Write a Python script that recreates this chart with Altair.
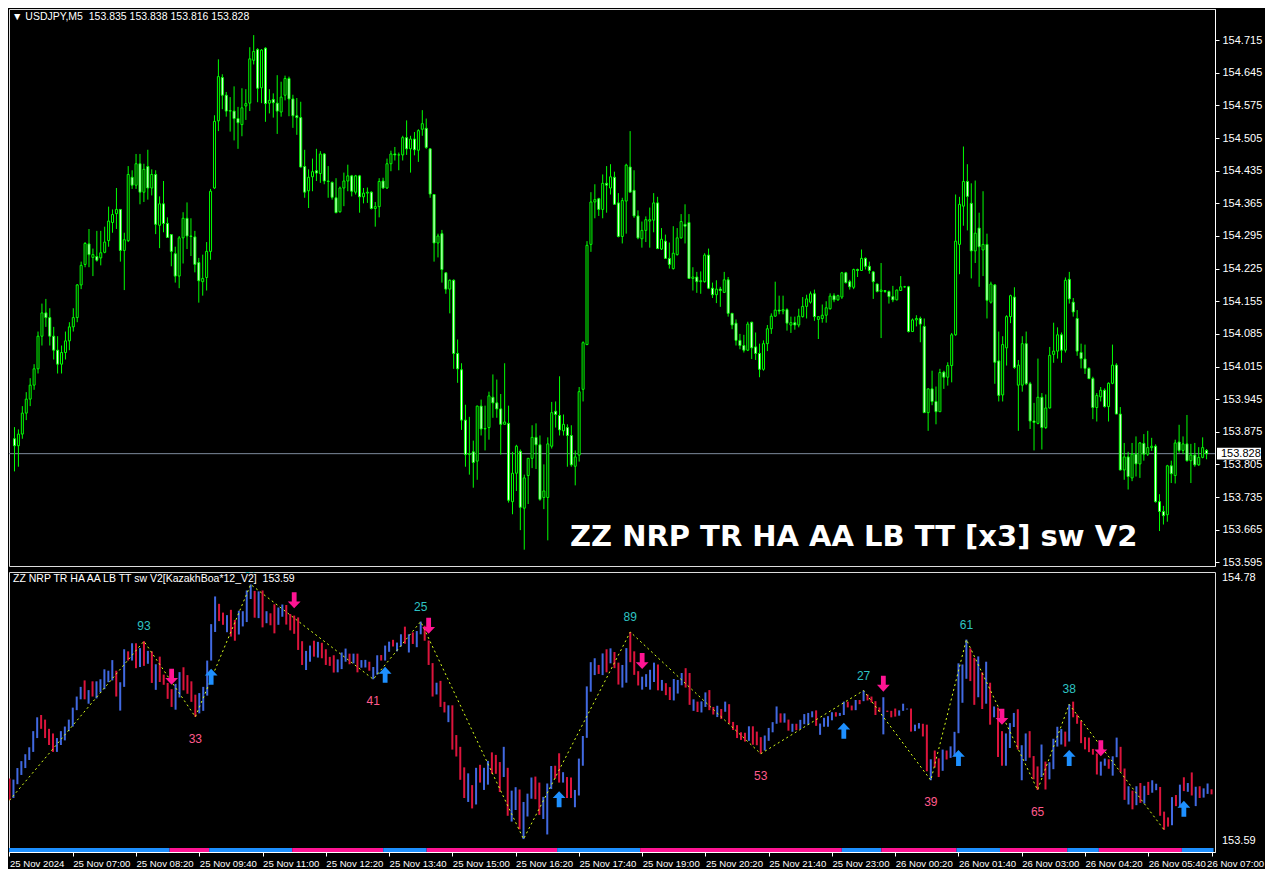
import altair as alt
import pandas as pd

# ---------------- data ----------------
OPEN = [
    153.860, 153.845, 153.870, 153.915, 153.945, 153.975, 154.010, 154.080, 154.130, 154.120,
    154.080, 154.050, 154.020, 154.045, 154.070, 154.100, 154.120, 154.190, 154.234, 154.278,
    154.249, 154.251, 154.248, 154.260, 154.285, 154.324, 154.343, 154.352, 154.264, 154.285,
    154.421, 154.404, 154.450, 154.389, 154.444, 154.398, 154.427, 154.318, 154.364, 154.322,
    154.298, 154.257, 154.209, 154.291, 154.333, 154.295, 154.293, 154.238, 154.197, 154.206,
    154.262, 154.398, 154.542, 154.635, 154.597, 154.563, 154.563, 154.547, 154.534, 154.574,
    154.580, 154.672, 154.695, 154.613, 154.698, 154.580, 154.588, 154.580, 154.561, 154.597,
    154.633, 154.589, 154.553, 154.549, 154.444, 154.392, 154.422, 154.435, 154.429, 154.471,
    154.413, 154.410, 154.377, 154.347, 154.398, 154.413, 154.424, 154.389, 154.424, 154.379,
    154.387, 154.389, 154.354, 154.358, 154.413, 154.398, 154.450, 154.471, 154.469, 154.469,
    154.506, 154.482, 154.503, 154.479, 154.524, 154.526, 154.482, 154.384, 154.280, 154.300,
    154.216, 154.181, 154.200, 154.043, 154.008, 153.900, 153.826, 153.832, 153.812, 153.930,
    153.881, 153.884, 153.949, 153.937, 153.924, 153.891, 153.893, 153.725, 153.786, 153.833,
    153.711, 153.781, 153.818, 153.863, 153.847, 153.734, 153.734, 153.844, 153.919, 153.910,
    153.877, 153.884, 153.867, 153.801, 153.825, 153.966, 154.062, 154.277, 154.368, 154.375,
    154.352, 154.408, 154.398, 154.421, 154.366, 154.294, 154.370, 154.443, 154.393, 154.338,
    154.289, 154.307, 154.327, 154.329, 154.366, 154.267, 154.284, 154.247, 154.225, 154.255,
    154.291, 154.320, 154.324, 154.204, 154.207, 154.197, 154.197, 154.254, 154.183, 154.169,
    154.181, 154.174, 154.201, 154.129, 154.108, 154.071, 154.060, 154.050, 154.110, 154.057,
    154.043, 154.009, 154.064, 154.096, 154.123, 154.136, 154.134, 154.137, 154.104, 154.109,
    154.104, 154.122, 154.144, 154.153, 154.171, 154.116, 154.118, 154.125, 154.139, 154.167,
    154.158, 154.164, 154.216, 154.197, 154.185, 154.223, 154.221, 154.247, 154.230, 154.218,
    154.192, 154.176, 154.178, 154.176, 154.165, 154.158, 154.178, 154.186, 154.186, 154.090,
    154.115, 154.118, 154.101, 153.916, 153.967, 153.940, 153.918, 154.003, 153.992, 154.017,
    154.083, 154.277, 154.359, 154.412, 154.365, 154.263, 154.312, 154.265, 154.277, 154.153,
    154.190, 154.027, 153.954, 154.055, 154.122, 154.164, 153.975, 153.975, 154.064, 153.978,
    153.898, 153.893, 153.949, 153.884, 153.926, 154.041, 154.048, 154.083, 154.050, 154.202,
    154.153, 154.118, 154.045, 154.031, 154.011, 153.989, 153.927, 153.950, 153.964, 153.929,
    153.979, 154.018, 153.913, 153.793, 153.821, 153.776, 153.827, 153.806, 153.850, 153.827,
    153.841, 153.844, 153.725, 153.704, 153.697, 153.802, 153.781, 153.853, 153.835, 153.849,
    153.813, 153.825, 153.804, 153.820, 153.835,
]
HIGH = [
    153.885, 153.880, 153.930, 153.960, 153.990, 154.020, 154.090, 154.150, 154.160, 154.140,
    154.100, 154.080, 154.060, 154.090, 154.110, 154.140, 154.192, 154.240, 154.282, 154.310,
    154.268, 154.306, 154.306, 154.315, 154.358, 154.352, 154.398, 154.352, 154.302, 154.445,
    154.436, 154.471, 154.471, 154.450, 154.480, 154.438, 154.436, 154.380, 154.413, 154.335,
    154.299, 154.272, 154.295, 154.346, 154.367, 154.333, 154.306, 154.248, 154.255, 154.282,
    154.396, 154.554, 154.674, 154.642, 154.604, 154.593, 154.616, 154.572, 154.612, 154.610,
    154.700, 154.726, 154.698, 154.696, 154.700, 154.610, 154.601, 154.640, 154.626, 154.639,
    154.637, 154.598, 154.591, 154.583, 154.480, 154.438, 154.461, 154.482, 154.477, 154.473,
    154.445, 154.412, 154.419, 154.401, 154.431, 154.448, 154.426, 154.426, 154.426, 154.398,
    154.399, 154.391, 154.368, 154.419, 154.420, 154.461, 154.478, 154.486, 154.474, 154.510,
    154.543, 154.510, 154.518, 154.524, 154.565, 154.547, 154.483, 154.385, 154.300, 154.308,
    154.217, 154.202, 154.202, 154.073, 154.022, 153.933, 153.907, 153.856, 153.931, 153.944,
    153.931, 153.961, 153.998, 153.987, 153.956, 154.022, 153.931, 153.832, 153.847, 153.837,
    153.783, 153.819, 153.889, 153.893, 153.867, 153.805, 153.863, 153.939, 153.940, 153.994,
    153.912, 153.891, 153.889, 153.835, 153.971, 154.069, 154.284, 154.389, 154.406, 154.377,
    154.427, 154.445, 154.449, 154.433, 154.387, 154.377, 154.450, 154.520, 154.436, 154.350,
    154.326, 154.337, 154.356, 154.387, 154.379, 154.312, 154.298, 154.281, 154.316, 154.312,
    154.342, 154.363, 154.342, 154.228, 154.218, 154.219, 154.258, 154.268, 154.195, 154.200,
    154.186, 154.218, 154.207, 154.130, 154.116, 154.085, 154.083, 154.111, 154.111, 154.088,
    154.064, 154.071, 154.104, 154.129, 154.197, 154.167, 154.167, 154.140, 154.122, 154.122,
    154.139, 154.164, 154.169, 154.176, 154.180, 154.123, 154.148, 154.155, 154.172, 154.172,
    154.169, 154.218, 154.218, 154.201, 154.225, 154.225, 154.266, 154.249, 154.240, 154.220,
    154.193, 154.237, 154.179, 154.178, 154.188, 154.180, 154.209, 154.188, 154.188, 154.118,
    154.125, 154.122, 154.118, 153.968, 154.006, 153.972, 154.010, 154.006, 154.024, 154.087,
    154.384, 154.379, 154.487, 154.449, 154.408, 154.414, 154.345, 154.391, 154.300, 154.197,
    154.192, 154.090, 154.080, 154.125, 154.169, 154.185, 154.029, 154.080, 154.090, 153.982,
    153.937, 154.032, 153.958, 153.955, 154.057, 154.109, 154.099, 154.088, 154.206, 154.218,
    154.162, 154.136, 154.064, 154.062, 154.013, 153.993, 153.958, 153.971, 153.968, 153.981,
    154.062, 154.022, 153.928, 153.851, 153.832, 153.851, 153.865, 153.853, 153.870, 153.877,
    153.862, 153.848, 153.741, 153.716, 153.804, 153.813, 153.858, 153.890, 153.865, 153.911,
    153.849, 153.851, 153.842, 153.863, 153.838,
]
LOW = [
    153.790, 153.800, 153.860, 153.900, 153.930, 153.965, 154.000, 154.060, 154.100, 154.060,
    154.030, 154.000, 154.000, 154.030, 154.050, 154.090, 154.110, 154.181, 154.228, 154.228,
    154.209, 154.240, 154.232, 154.258, 154.272, 154.302, 154.310, 154.240, 154.179, 154.282,
    154.396, 154.396, 154.363, 154.368, 154.373, 154.382, 154.299, 154.269, 154.303, 154.291,
    154.230, 154.195, 154.183, 154.236, 154.267, 154.252, 154.217, 154.152, 154.167, 154.178,
    154.244, 154.396, 154.520, 154.567, 154.551, 154.519, 154.500, 154.482, 154.509, 154.544,
    154.563, 154.663, 154.582, 154.580, 154.540, 154.558, 154.549, 154.514, 154.551, 154.586,
    154.552, 154.527, 154.512, 154.442, 154.377, 154.355, 154.391, 154.413, 154.409, 154.406,
    154.377, 154.373, 154.344, 154.345, 154.359, 154.391, 154.380, 154.384, 154.345, 154.365,
    154.366, 154.352, 154.315, 154.335, 154.396, 154.396, 154.434, 154.457, 154.436, 154.457,
    154.469, 154.431, 154.468, 154.454, 154.510, 154.482, 154.377, 154.240, 154.249, 154.195,
    154.171, 154.129, 154.010, 153.980, 153.879, 153.800, 153.783, 153.755, 153.772, 153.867,
    153.835, 153.858, 153.905, 153.905, 153.826, 153.891, 153.723, 153.698, 153.748, 153.664,
    153.622, 153.720, 153.797, 153.795, 153.727, 153.709, 153.642, 153.839, 153.884, 153.867,
    153.867, 153.800, 153.800, 153.760, 153.811, 153.940, 154.061, 154.261, 154.333, 154.338,
    154.333, 154.345, 154.384, 154.363, 154.292, 154.279, 154.300, 154.389, 154.334, 154.288,
    154.270, 154.282, 154.270, 154.303, 154.267, 154.265, 154.246, 154.225, 154.223, 154.253,
    154.289, 154.279, 154.204, 154.178, 154.173, 154.171, 154.195, 154.181, 154.162, 154.151,
    154.143, 154.174, 154.122, 154.095, 154.060, 154.052, 154.045, 154.048, 154.031, 154.029,
    153.992, 154.006, 154.048, 154.085, 154.122, 154.127, 154.127, 154.092, 154.087, 154.094,
    154.099, 154.120, 154.118, 154.150, 154.113, 154.074, 154.109, 154.109, 154.137, 154.153,
    154.156, 154.160, 154.193, 154.180, 154.181, 154.207, 154.220, 154.223, 154.214, 154.160,
    154.174, 154.076, 154.173, 154.150, 154.153, 154.157, 154.178, 154.184, 154.088, 154.090,
    154.101, 154.067, 153.916, 153.877, 153.932, 153.891, 153.918, 153.967, 153.974, 153.981,
    154.081, 154.213, 154.317, 154.307, 154.204, 154.237, 154.186, 154.209, 154.118, 154.150,
    153.978, 153.940, 153.940, 154.017, 154.108, 154.010, 153.877, 153.961, 153.975, 153.881,
    153.835, 153.891, 153.837, 153.881, 153.925, 154.023, 154.032, 154.023, 154.045, 154.150,
    154.122, 154.038, 154.011, 153.999, 153.988, 153.902, 153.897, 153.940, 153.927, 153.897,
    153.977, 153.913, 153.792, 153.772, 153.751, 153.769, 153.779, 153.776, 153.813, 153.823,
    153.834, 153.723, 153.662, 153.676, 153.682, 153.765, 153.764, 153.830, 153.827, 153.811,
    153.765, 153.800, 153.802, 153.818, 153.816,
]
CLOSE = [
    153.845, 153.870, 153.915, 153.945, 153.975, 154.010, 154.080, 154.130, 154.120, 154.080,
    154.050, 154.020, 154.045, 154.070, 154.100, 154.120, 154.190, 154.232, 154.279, 154.255,
    154.255, 154.243, 154.259, 154.282, 154.327, 154.341, 154.352, 154.264, 154.287, 154.427,
    154.404, 154.450, 154.389, 154.438, 154.398, 154.427, 154.320, 154.364, 154.322, 154.292,
    154.262, 154.209, 154.291, 154.333, 154.295, 154.294, 154.234, 154.199, 154.204, 154.262,
    154.391, 154.541, 154.637, 154.597, 154.563, 154.564, 154.547, 154.538, 154.570, 154.579,
    154.675, 154.691, 154.612, 154.694, 154.579, 154.586, 154.581, 154.563, 154.593, 154.633,
    154.589, 154.553, 154.549, 154.443, 154.389, 154.421, 154.433, 154.430, 154.471, 154.413,
    154.412, 154.378, 154.345, 154.398, 154.413, 154.424, 154.391, 154.424, 154.379, 154.387,
    154.389, 154.354, 154.358, 154.412, 154.398, 154.450, 154.471, 154.469, 154.469, 154.506,
    154.482, 154.503, 154.480, 154.521, 154.536, 154.485, 154.385, 154.280, 154.295, 154.223,
    154.181, 154.200, 154.043, 154.010, 153.900, 153.826, 153.828, 153.809, 153.930, 153.881,
    153.882, 153.952, 153.937, 153.924, 153.891, 153.896, 153.728, 153.786, 153.844, 153.713,
    153.776, 153.818, 153.863, 153.847, 153.730, 153.748, 153.849, 153.916, 153.912, 153.879,
    153.891, 153.867, 153.804, 153.821, 153.961, 154.066, 154.275, 154.368, 154.373, 154.352,
    154.408, 154.404, 154.422, 154.363, 154.294, 154.371, 154.447, 154.389, 154.338, 154.291,
    154.307, 154.330, 154.330, 154.366, 154.268, 154.288, 154.247, 154.234, 154.258, 154.291,
    154.326, 154.316, 154.204, 154.207, 154.197, 154.199, 154.254, 154.183, 154.169, 154.181,
    154.178, 154.201, 154.129, 154.104, 154.071, 154.060, 154.050, 154.106, 154.055, 154.043,
    154.009, 154.064, 154.096, 154.123, 154.136, 154.134, 154.137, 154.108, 154.109, 154.104,
    154.123, 154.144, 154.160, 154.171, 154.122, 154.122, 154.125, 154.141, 154.166, 154.158,
    154.167, 154.216, 154.195, 154.186, 154.223, 154.221, 154.247, 154.230, 154.221, 154.197,
    154.176, 154.179, 154.176, 154.165, 154.158, 154.179, 154.186, 154.186, 154.090, 154.115,
    154.118, 154.106, 153.916, 153.967, 153.940, 153.918, 154.002, 153.992, 154.017, 154.083,
    154.284, 154.363, 154.412, 154.380, 154.263, 154.301, 154.272, 154.277, 154.157, 154.192,
    154.024, 153.953, 154.062, 154.122, 154.167, 154.013, 154.018, 154.064, 153.978, 153.898,
    153.895, 153.949, 153.884, 153.926, 154.039, 154.048, 154.083, 154.050, 154.200, 154.160,
    154.132, 154.048, 154.032, 154.011, 153.989, 153.927, 153.953, 153.964, 153.929, 153.979,
    154.018, 153.913, 153.793, 153.821, 153.779, 153.827, 153.806, 153.851, 153.827, 153.841,
    153.844, 153.725, 153.704, 153.695, 153.802, 153.785, 153.851, 153.835, 153.849, 153.813,
    153.825, 153.804, 153.820, 153.841, 153.828,
]

TIME_LABELS = [
    "25 Nov 2024", "25 Nov 07:00", "25 Nov 08:20", "25 Nov 09:40", "25 Nov 11:00",
    "25 Nov 12:20", "25 Nov 13:40", "25 Nov 15:00", "25 Nov 16:20", "25 Nov 17:40",
    "25 Nov 19:00", "25 Nov 20:20", "25 Nov 21:40", "25 Nov 23:00", "26 Nov 00:20",
    "26 Nov 01:40", "26 Nov 03:00", "26 Nov 04:20", "26 Nov 05:40", "26 Nov 07:00",
]
PRICE_TICKS = [154.715, 154.645, 154.575, 154.505, 154.435, 154.365, 154.295, 154.225,
               154.155, 154.085, 154.015, 153.945, 153.875, 153.805, 153.735, 153.665, 153.595]
LAST_PRICE = [153.828]
SUB_LABELS = ["154.78", "153.59"]

ZZ_BAR = [0, 34, 47, 61, 92, 104, 130, 157, 190, 216, 233, 242, 260, 268, 292]
ZZ_PRICE = [153.790, 154.480, 154.152, 154.726, 154.315, 154.565, 153.622, 154.520,
            153.992, 154.266, 153.877, 154.487, 153.835, 154.206, 153.662]
ZZ_TEXT = ["", "93", "33", "37", "41", "25", "", "89", "53", "27", "39", "61", "65", "38", ""]
ZZ_SIDE = ["low", "high", "low", "high", "low", "high", "low", "high",
           "low", "high", "low", "high", "low", "high", "low"]

ARROW_BAR = [41, 51, 72, 95, 106, 139, 160, 211, 221, 240, 251, 268, 276, 297]
ARROW_PRICE = [154.326, 154.326, 154.657, 154.334, 154.547, 153.795, 154.394,
               154.092, 154.296, 153.974, 154.152, 153.974, 154.016, 153.753]
ARROW_DIR = ["down", "up", "down", "up", "down", "up", "down",
             "up", "down", "up", "down", "up", "down", "up"]

STRIP_EDGES = [0, 41, 51, 72, 95, 106, 139, 160, 211, 221, 240, 251, 268, 276, 297, 305]
STRIP_STATE = ["up", "down", "up", "down", "up", "down", "up", "down",
               "up", "down", "up", "down", "up", "down", "up"]

HEADER_TOP = "\u25BC USDJPY,M5\u00a0 153.835 153.838 153.816 153.828"
HEADER_SUB = "ZZ NRP TR HA AA LB TT sw V2[KazakhBoa*12_V2]\u00a0 153.59"
BIG_TITLE = "ZZ NRP TR HA AA LB TT [x3] sw V2"

# ---------------- layout / styling ----------------
W = 1206
H_TOP = 557
H_BOT = 280
FONT = "Liberation Sans"
WHITE = "#ffffff"

N = len(CLOSE)
candles = pd.DataFrame({"i": list(range(N)), "o": OPEN, "h": HIGH, "l": LOW, "c": CLOSE})

xs = alt.Scale(domain=[-0.125, 304.875], nice=False, zero=False)
ys_top = alt.Scale(domain=[153.587, 154.782], nice=False, zero=False)
ys_bot = alt.Scale(domain=[153.566, 154.780], nice=False, zero=False)

ax_price = alt.Axis(orient="right", values=PRICE_TICKS, format=".3f", labelColor=WHITE,
                    labelFont=FONT, labelFontSize=11, tickColor=WHITE, tickSize=4,
                    domainColor=WHITE, grid=False, title=None, labelPadding=3,
                    labelOverlap=False)
lab_js = "[" + ",".join("'" + s + "'" for s in TIME_LABELS) + "]"
last_tick = 16 * (len(TIME_LABELS) - 1)
ax_time = alt.Axis(values=[16 * k for k in range(len(TIME_LABELS))],
                   labelExpr=lab_js + "[round(datum.value/16)]", labelAlign="left",
                   labelColor=WHITE, labelFont=FONT, labelFontSize=9.6,
                   labelOffset=alt.condition("datum.value >= %d" % last_tick,
                                             alt.value(-5), alt.value(0)),
                   tickColor=WHITE, tickSize=4, domainColor=WHITE, grid=False, title=None,
                   labelPadding=2, labelOverlap=False, labelFlush=False, labelBound=False)

X_TOP = alt.X("i:Q", scale=xs, axis=None, title=None)
X_BOT = alt.X("i:Q", scale=xs, axis=ax_time, title=None)


def y_top(f):
    return alt.Y(f, scale=ys_top, axis=ax_price, title=None)


def y_bot(f):
    return alt.Y(f, scale=ys_bot, axis=None, title=None)


# ---------------- main price panel ----------------
wick = alt.Chart(candles).mark_rule(color="#00ff00", strokeWidth=1, clip=True).encode(
    x=X_TOP, y=y_top("l:Q"), y2="h:Q")
body = alt.Chart(candles).mark_bar(size=2, stroke="#00ff00", strokeWidth=1, clip=True).encode(
    x=X_TOP, y=y_top("o:Q"), y2="c:Q",
    fill=alt.condition("datum.c >= datum.o", alt.value("#000000"), alt.value("#ffffff")))

lp = pd.DataFrame({"p": LAST_PRICE})
price_line = alt.Chart(lp).mark_rule(color="#7d8a9c", strokeWidth=1).encode(y=y_top("p:Q"))
BOX = "M-1,-0.27L1,-0.27L1,0.27L-1,0.27Z"
price_box = alt.Chart(lp).mark_point(shape=BOX, size=44 * 44, filled=True, fill=WHITE,
                                     opacity=1, strokeWidth=0, clip=False).encode(
    x=alt.value(W + 24), y=y_top("p:Q"))
price_txt = alt.Chart(lp).mark_text(align="left", baseline="middle", color="#000000",
                                    font=FONT, fontSize=11, clip=False).encode(
    x=alt.value(W + 6), y=y_top("p:Q"), text=alt.Text("p:Q", format=".3f"))

head_top = alt.Chart(pd.DataFrame({"t": [HEADER_TOP]})).mark_text(
    align="left", baseline="middle", color=WHITE, font=FONT, fontSize=10.5).encode(
    x=alt.value(3), y=alt.value(8), text="t:N")
big = alt.Chart(pd.DataFrame({"t": [BIG_TITLE]})).mark_text(
    align="left", baseline="middle", color=WHITE, font="DejaVu Sans", fontSize=29,
    fontWeight="bold").encode(x=alt.value(561), y=alt.value(528), text="t:N")

top = alt.layer(price_line, wick, body, price_box, price_txt, head_top, big).properties(
    width=W, height=H_TOP)

# ---------------- indicator sub-window ----------------
sub_bars = alt.Chart(candles).mark_rule(strokeWidth=2, clip=True).encode(
    x=X_BOT, y=y_bot("l:Q"), y2="h:Q",
    color=alt.condition("datum.c >= datum.o", alt.value("#4169e1"), alt.value("#dc143c")))

zz = pd.DataFrame({"i": ZZ_BAR, "p": ZZ_PRICE, "t": ZZ_TEXT, "side": ZZ_SIDE})
zz_line = alt.Chart(zz).mark_line(color="#d8ff1a", strokeDash=[2, 3], strokeWidth=1,
                                  clip=True).encode(x=X_BOT, y=y_bot("p:Q"), order="i:Q")
zz_hi = alt.Chart(zz[zz.side == "high"]).mark_text(
    color="#2ec3c3", font=FONT, fontSize=12, dy=-15, baseline="middle", clip=True).encode(
    x=X_BOT, y=y_bot("p:Q"), text="t:N")
zz_lo = alt.Chart(zz[zz.side == "low"]).mark_text(
    color="#ff5a8c", font=FONT, fontSize=12, dy=22, baseline="middle", clip=True).encode(
    x=X_BOT, y=y_bot("p:Q"), text="t:N")

arr = pd.DataFrame({"i": ARROW_BAR, "p": ARROW_PRICE, "d": ARROW_DIR})
UP = "M0,-1L0.8,-0.15L0.3,-0.15L0.3,1L-0.3,1L-0.3,-0.15L-0.8,-0.15Z"
DOWN = "M0,1L0.8,0.15L0.3,0.15L0.3,-1L-0.3,-1L-0.3,0.15L-0.8,0.15Z"
arr_up = alt.Chart(arr[arr.d == "up"]).mark_point(
    shape=UP, size=256, filled=True, fill="#1e90ff", opacity=1, strokeWidth=0).encode(
    x=X_BOT, y=y_bot("p:Q"))
arr_dn = alt.Chart(arr[arr.d == "down"]).mark_point(
    shape=DOWN, size=256, filled=True, fill="#ff1493", opacity=1, strokeWidth=0).encode(
    x=X_BOT, y=y_bot("p:Q"))

strip = pd.DataFrame({"i": [e - 0.5 for e in STRIP_EDGES[:-1]],
                      "i2": [e - 0.5 for e in STRIP_EDGES[1:]],
                      "state": STRIP_STATE})
strip_layer = alt.Chart(strip).mark_rect(clip=True).encode(
    x=X_BOT, x2="i2:Q", y=alt.value(H_BOT - 4), y2=alt.value(H_BOT),
    color=alt.Color("state:N", scale=alt.Scale(domain=["up", "down"],
                                               range=["#1e90ff", "#ff1493"]), legend=None))

head_sub = alt.Chart(pd.DataFrame({"t": [HEADER_SUB]})).mark_text(
    align="left", baseline="middle", color=WHITE, font=FONT, fontSize=10.5).encode(
    x=alt.value(4), y=alt.value(7), text="t:N")
sub_lab = alt.Chart(pd.DataFrame({"t": SUB_LABELS, "yy": [6, 269]})).mark_text(
    align="left", baseline="middle", color=WHITE, font=FONT, fontSize=11, clip=False).encode(
    x=alt.value(W + 7), y=alt.Y("yy:Q", scale=None, axis=None), text="t:N")

bottom = alt.layer(sub_bars, zz_line, zz_hi, zz_lo, arr_up, arr_dn, strip_layer,
                   head_sub, sub_lab).properties(width=W, height=H_BOT)

chart = alt.vconcat(top, bottom, spacing=3).resolve_scale(
    x="independent", y="independent", color="independent").configure_view(
    stroke=WHITE, strokeWidth=1).configure(background="#000000", padding=0)

chart.save("out.html", embed_options={"renderer": "svg", "actions": False})
